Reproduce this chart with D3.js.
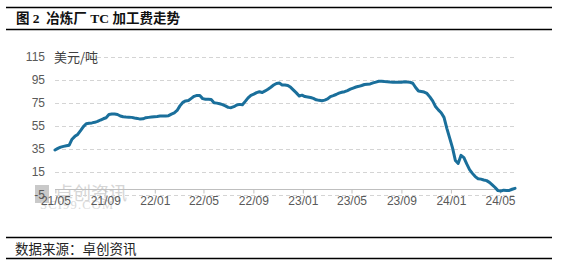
<!DOCTYPE html>
<html>
<head>
<meta charset="utf-8">
<script src="https://cdn.jsdelivr.net/npm/d3@7"></script>
<style>
  html, body { margin: 0; padding: 0; background: #fff; }
  svg { display: block; }
</style>
</head>
<body>
<svg id="chart" width="573" height="269"></svg>
<script>
// ---- data (weekly) ----
const startDate = "2021-04-30";
const tcValues = [
  34.1, 35.5, 36.6, 37.3, 37.8, 38.3, 43.5, 46.0, 47.7, 51.0,
  54.5, 57.0, 57.4, 57.7, 58.2, 59.0, 60.2, 61.3, 62.2, 65.0,
  65.4, 65.4, 65.0, 63.7, 63.0, 62.8, 62.7, 62.5, 62.0, 61.6,
  61.0, 61.2, 62.2, 62.5, 62.8, 63.1, 63.3, 63.6, 63.7, 63.8,
  64.0, 65.3, 66.4, 68.5, 72.5, 75.5, 76.8, 77.2, 79.0, 80.8,
  81.6, 81.5, 78.8, 78.2, 78.2, 78.0, 75.2, 74.9, 74.3, 73.6,
  72.5, 71.2, 70.9, 71.8, 73.2, 73.8, 73.5, 76.4, 79.5, 81.7,
  82.7, 84.0, 84.8, 84.1, 85.5, 87.0, 88.7, 90.6, 92.0, 92.4,
  90.7, 90.7, 90.3, 88.6, 86.2, 83.8, 81.1, 81.8, 80.6, 80.2,
  79.8, 79.0, 77.8, 77.3, 77.0, 77.5, 78.5, 80.6, 81.4, 82.4,
  83.6, 84.3, 84.8, 85.8, 87.0, 88.0, 88.9, 89.5, 90.2, 91.1,
  91.4, 91.6, 92.5, 93.2, 93.9, 94.0, 93.7, 93.5, 93.2, 93.0,
  93.0, 93.0, 93.1, 93.5, 93.2, 93.0, 92.2, 88.5, 85.4, 85.0,
  84.5, 83.3, 80.3, 76.8, 72.0, 69.0, 66.5, 62.5, 53.0, 44.5,
  36.0, 25.0, 22.5, 29.5, 27.5, 22.0, 17.0, 13.8, 11.0, 9.2,
  8.8, 8.1, 7.5, 6.0, 3.8, 1.5, -1.2, -1.6, -0.8, -1.1,
  -1.0, 0.0, 0.8
];
const yTicks = [-5, 15, 35, 55, 75, 95, 115];
const xTickLabels = ["21/05", "21/09", "22/01", "22/05", "22/09", "23/01", "23/05", "23/09", "24/01", "24/05"];
const titleText = "图 2  冶炼厂 TC 加工费走势";
const unitText = "美元/吨";
const sourceText = "数据来源：卓创资讯";

(function () {
const parseDay = d3.timeParse("%Y-%m-%d");
const parseTick = d3.timeParse("%y/%m");
const t0 = parseDay(startDate);
const data = tcValues.map((v, i) => ({ date: d3.timeDay.offset(t0, 7 * i), value: v }));

const svg = d3.select("#chart");
const pLeft = 55, pRight = 515, pTop = 57, pBottom = 195;

const x = d3.scaleTime()
  .domain([data[0].date, data[data.length - 1].date])
  .range([pLeft, pRight]);
const y = d3.scaleLinear().domain([-5, 115]).range([pBottom, pTop]);

// title band
svg.append("line").attr("x1", 6).attr("x2", 552).attr("y1", 7.5).attr("y2", 7.5)
  .attr("stroke", "#000").attr("stroke-width", 1.3);
svg.append("line").attr("x1", 6).attr("x2", 552).attr("y1", 29.5).attr("y2", 29.5)
  .attr("stroke", "#000").attr("stroke-width", 1.3);
svg.append("text").attr("x", 16).attr("y", 23)
  .attr("font-family", "'Liberation Serif', 'Noto Sans CJK SC', serif").attr("font-weight", "bold")
  .attr("font-size", 13.5).attr("fill", "#111")
  .style("white-space", "pre").text(titleText);

// source band
svg.append("line").attr("x1", 6).attr("x2", 552).attr("y1", 237.5).attr("y2", 237.5)
  .attr("stroke", "#000").attr("stroke-width", 1.3);
svg.append("line").attr("x1", 6).attr("x2", 552).attr("y1", 258.5).attr("y2", 258.5)
  .attr("stroke", "#000").attr("stroke-width", 1.3);
svg.append("text").attr("x", 15).attr("y", 253.5)
  .attr("font-family", "'Noto Sans CJK SC', sans-serif")
  .attr("font-size", 13.5).attr("fill", "#222").text(sourceText);

// watermark
const wm = svg.append("g");
wm.append("rect").attr("x", 35).attr("y", 185).attr("width", 14).attr("height", 18).attr("fill", "#c9c9c9");
wm.append("text").attr("x", 55).attr("y", 200)
  .attr("font-family", "'Noto Sans CJK SC', sans-serif").attr("font-size", 18)
  .attr("fill", "#d6d6d6").text("卓创资讯");
wm.append("text").attr("x", 40).attr("y", 209)
  .attr("font-family", "'Liberation Serif', serif").attr("font-size", 12.5)
  .attr("letter-spacing", 1.2)
  .attr("fill", "#dadada").text("SCI99.COM");

// gridlines
svg.append("g").selectAll("line").data(yTicks).join("line")
  .attr("x1", pLeft).attr("x2", pRight)
  .attr("y1", d => Math.round(y(d)) + 0.5).attr("y2", d => Math.round(y(d)) + 0.5)
  .attr("stroke", "#d4d4d4").attr("stroke-width", 1).attr("stroke-dasharray", "4,3");

// y labels
svg.append("g").selectAll("text").data(yTicks).join("text")
  .attr("x", 45).attr("y", d => y(d)).attr("dy", "0.36em")
  .attr("text-anchor", "end")
  .attr("font-family", "'Liberation Sans', Arial, sans-serif")
  .attr("font-size", 12).attr("fill", "#595959")
  .text(d => d);

// unit label
svg.append("text").attr("x", 54).attr("y", y(115)).attr("dy", "0.36em")
  .attr("font-family", "'Noto Sans CJK SC', sans-serif")
  .attr("font-size", 13).attr("fill", "#404040").text(unitText);

// x axis
const xAxis = d3.axisBottom(x)
  .tickValues(xTickLabels.map(s => parseTick(s)))
  .tickFormat(d3.timeFormat("%y/%m"))
  .tickSize(4).tickSizeOuter(0).tickPadding(3);
const gx = svg.append("g").attr("transform", `translate(0,${Math.round(y(0)) + 0.5})`).call(xAxis);
gx.select(".domain").attr("stroke", "#bfbfbf").attr("d", `M${pLeft},0H${pRight}`);
gx.selectAll(".tick line").attr("stroke", "#bfbfbf");
gx.selectAll(".tick text")
  .attr("font-family", "'Liberation Sans', Arial, sans-serif")
  .attr("font-size", 12).attr("fill", "#595959");

// line
const line = d3.line().x(d => x(d.date)).y(d => y(d.value)).curve(d3.curveLinear);
svg.append("path").datum(data)
  .attr("fill", "none").attr("stroke", "#1a6f9b").attr("stroke-width", 3)
  .attr("stroke-linejoin", "round").attr("stroke-linecap", "round")
  .attr("d", line);
})();
</script>
</body>
</html>
